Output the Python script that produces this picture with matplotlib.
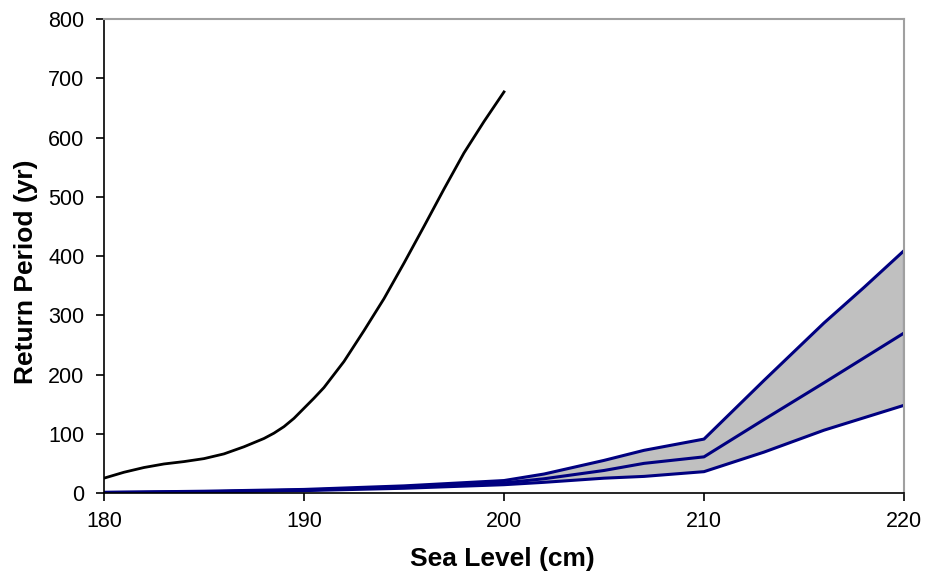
import matplotlib.pyplot as plt

plt.rcParams['font.family'] = ['Liberation Sans', 'DejaVu Sans']

# black curve (observed)
x_obs = [180, 181, 182, 183, 184, 185, 186, 187, 188, 188.5, 189, 189.5, 190,
         190.5, 191, 192, 193, 194, 195, 196, 197, 198, 199, 200]
rp_obs = [25, 35, 43, 49, 53, 58, 66, 78, 92, 101, 112, 126, 143,
          160, 178, 222, 274, 328, 388, 450, 513, 574, 627, 677]

# blue band (estimate with upper/lower bounds)
x_est = [180, 185, 190, 195, 200, 202, 205, 207, 210, 213, 216, 218, 220]
rp_upper = [1, 3, 6, 12, 21, 32, 55, 72, 91, 190, 287, 347, 409]
rp_mid = [1, 2, 5, 10, 17, 24, 38, 50, 61, 124, 186, 228, 270]
rp_lower = [0, 2, 4, 8, 14, 18, 25, 28, 36, 69, 106, 127, 148]

fig = plt.figure(figsize=(9.25, 5.77), dpi=100)
ax = fig.add_axes([0.1124, 0.1456, 0.8649, 0.8214])

ax.fill_between(x_est, rp_lower, rp_upper, color='#c0c0c0', lw=0)
for ys in (rp_upper, rp_mid, rp_lower):
    ax.plot(x_est, ys, color='#000080', lw=2.2)
ax.plot([x_est[-1], x_est[-1]], [rp_lower[-1], rp_upper[-1]], color='#000080', lw=2.2)
ax.plot(x_obs, rp_obs, color='black', lw=2.0)

ax.set_xlim(180, 220)
ax.set_ylim(0, 800)
ax.set_xticks([180, 190, 200, 210, 220])
ax.set_yticks(range(0, 801, 100))
ax.tick_params(direction='out', length=6, width=1.2, labelsize=15.5, colors='black')
ax.tick_params(axis='x', pad=7)
ax.tick_params(axis='y', pad=8)

for side in ('top', 'right'):
    ax.spines[side].set_color('#a0a0a0')
    ax.spines[side].set_linewidth(1.5)
for side in ('left', 'bottom'):
    ax.spines[side].set_color('black')
    ax.spines[side].set_linewidth(1.2)

ax.set_xlabel('Sea Level (cm)', fontsize=19, fontweight='bold', va='center')
ax.set_ylabel('Return Period (yr)', fontsize=19, fontweight='bold', va='center')
ax.xaxis.set_label_coords(0.498, -0.139)
ax.yaxis.set_label_coords(-0.098, 0.466)

fig.savefig('out.png', dpi=100)
